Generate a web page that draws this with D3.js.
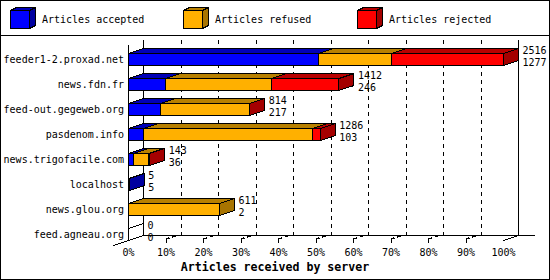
<!DOCTYPE html>
<html>
<head>
<meta charset="utf-8">
<script src="https://cdn.jsdelivr.net/npm/d3@7"></script>
<style>
html,body{margin:0;padding:0;background:#fff;}
svg{display:block;}
text{font-family:"DejaVu Sans Mono","Liberation Mono",monospace;fill:#000;}
</style>
</head>
<body>
<svg id="chart" width="550" height="280"></svg>
<script>
const categories = ["feeder1-2.proxad.net","news.fdn.fr","feed-out.gegeweb.org","pasdenom.info","news.trigofacile.com","localhost","news.glou.org","feed.agneau.org"];
const accepted = [1277, 246, 217, 103, 36, 5, 2, 0];
const refused  = [486, 714, 594, 1133, 101, 0, 609, 0];
const rejected = [753, 452, 3, 50, 6, 0, 0, 0];
const seriesNames = ["Articles accepted","Articles refused","Articles rejected"];
const tickValues = [0,10,20,30,40,50,60,70,80,90,100];
const axisTitle = "Articles received by server";

const colors = [
  {front:"#0000ff", top:"#0000b8", side:"#0000a0"},
  {front:"#ffb000", top:"#b88000", side:"#a87400"},
  {front:"#ff0000", top:"#b80000", side:"#a40000"}
];

const svg = d3.select("#chart");
const W = 550, H = 280;
const DX = 15, DY = 5;

// frame
svg.append("rect").attr("x",0.5).attr("y",0.5).attr("width",W-1).attr("height",H-1)
  .attr("fill","#fff").attr("stroke","#000");
svg.append("line").attr("x1",0).attr("x2",W).attr("y1",35.5).attr("y2",35.5).attr("stroke","#000");

// legend
const legendX = [10.5, 183.5, 357.5];
seriesNames.forEach((name,i)=>{
  const g = svg.append("g").attr("shape-rendering","crispEdges");
  const x0 = legendX[i], y0 = 10.5, w = 19, h = 18, lx = 6, ly = 3;
  g.append("path").attr("d",`M${x0},${y0}L${x0+lx},${y0-ly}L${x0+w+lx},${y0-ly}L${x0+w},${y0}Z`)
    .attr("fill",colors[i].top).attr("stroke","#000");
  g.append("path").attr("d",`M${x0+w},${y0}L${x0+w+lx},${y0-ly}L${x0+w+lx},${y0+h-ly}L${x0+w},${y0+h}Z`)
    .attr("fill",colors[i].side).attr("stroke","#000");
  g.append("rect").attr("x",x0).attr("y",y0).attr("width",w).attr("height",h)
    .attr("fill",colors[i].front).attr("stroke","#000");
  svg.append("text").attr("x",x0+31.5).attr("y",22.5).attr("font-size","10px").text(name);
});

// scales
const totals = categories.map((c,i)=>accepted[i]+refused[i]+rejected[i]);
const maxTotal = d3.max(totals);
const x = d3.scaleLinear().domain([0,100]).range([128.5,503.5]);
const y = d3.scaleBand().domain(categories).range([40,240]);
const pct = v => v / maxTotal * 100;

const floorFront = 240.5, floorBack = floorFront - DY, wallTop = 40;

// grid lines on back wall
const grid = svg.append("g").attr("shape-rendering","crispEdges");
tickValues.filter(t=>t>0 && t<100).forEach(t=>{
  grid.append("line").attr("x1",x(t)+DX).attr("x2",x(t)+DX).attr("y1",wallTop).attr("y2",floorBack)
    .attr("stroke","#000").attr("stroke-dasharray","4,4");
});
// walls and floor
const axes = svg.append("g").attr("stroke","#000").attr("fill","none");
axes.append("line").attr("x1",x(0)+DX).attr("x2",x(0)+DX).attr("y1",wallTop).attr("y2",floorBack).attr("shape-rendering","crispEdges");
axes.append("line").attr("x1",x(100)+DX).attr("x2",x(100)+DX).attr("y1",wallTop).attr("y2",floorBack).attr("shape-rendering","crispEdges");
axes.append("line").attr("x1",x(0)).attr("x2",x(0)).attr("y1",wallTop+DY).attr("y2",floorFront).attr("shape-rendering","crispEdges");
axes.append("line").attr("x1",x(0)+DX).attr("x2",535).attr("y1",floorBack).attr("y2",floorBack).attr("shape-rendering","crispEdges");
axes.append("line").attr("x1",x(0)-DX).attr("y1",floorFront+DY).attr("x2",x(0)+DX).attr("y2",floorBack).attr("shape-rendering","crispEdges");
axes.append("line").attr("x1",x(100)).attr("y1",floorFront).attr("x2",x(100)+DX).attr("y2",floorBack).attr("shape-rendering","crispEdges");
// ticks
tickValues.filter(t=>t>0 && t<100).forEach(t=>{
  const tx = x(t);
  axes.append("line").attr("x1",tx).attr("x2",tx).attr("y1",238.5).attr("y2",242.5).attr("shape-rendering","crispEdges");
  axes.append("line").attr("x1",tx).attr("y1",239).attr("x2",tx+DX).attr("y2",239-DY)
    .attr("stroke-dasharray","3.5,3,4,100").attr("stroke-width",1.3).attr("shape-rendering","crispEdges");
});
// tick labels
tickValues.forEach(t=>{
  svg.append("text").attr("x",x(t)).attr("y",256).attr("text-anchor","middle").attr("font-size","10px").text(t+"%");
});
svg.append("text").attr("x",275).attr("y",271).attr("text-anchor","middle")
  .attr("font-size","11.6px").attr("font-weight","bold").text(axisTitle);

// bars
function box(g, x0, x1, yt, yb, col, fill){
  g.append("path").attr("d",`M${x0},${yt}L${x0+DX},${yt-DY}L${x1+DX},${yt-DY}L${x1},${yt}Z`)
    .attr("fill",fill?col.top:"none").attr("stroke","#000");
  g.append("path").attr("d",`M${x1},${yt}L${x1+DX},${yt-DY}L${x1+DX},${yb-DY}L${x1},${yb}Z`)
    .attr("fill",fill?col.side:"none").attr("stroke","#000");
  if (x1 > x0) g.append("rect").attr("x",x0).attr("y",yt).attr("width",x1-x0).attr("height",yb-yt)
    .attr("fill",fill?col.front:"none").attr("stroke","#000");
}
const series = [accepted, refused, rejected];
categories.forEach((c,i)=>{
  const g = svg.append("g").attr("shape-rendering","crispEdges");
  const yt = y(c)+13.5, yb = y(c)+25.5;
  if (totals[i] === 0){
    box(g, x(0), x(0), yt, yb, colors[0], false);
  } else {
    let cum = 0;
    series.forEach((s,k)=>{
      const v = s[i];
      if (v <= 0) return;
      box(g, x(pct(cum)), x(pct(cum+v)), yt, yb, colors[k], true);
      cum += v;
    });
  }
  // category label
  svg.append("text").attr("x",124).attr("y",y(c)+23).attr("text-anchor","end").attr("font-size","10px").text(c);
  // value labels
  const lx = x(pct(totals[i]))+DX+4;
  svg.append("text").attr("x",lx).attr("y",yt).attr("font-size","10px").text(totals[i]);
  svg.append("text").attr("x",lx).attr("y",yb).attr("font-size","10px").text(accepted[i]);
});
</script>
</body>
</html>
